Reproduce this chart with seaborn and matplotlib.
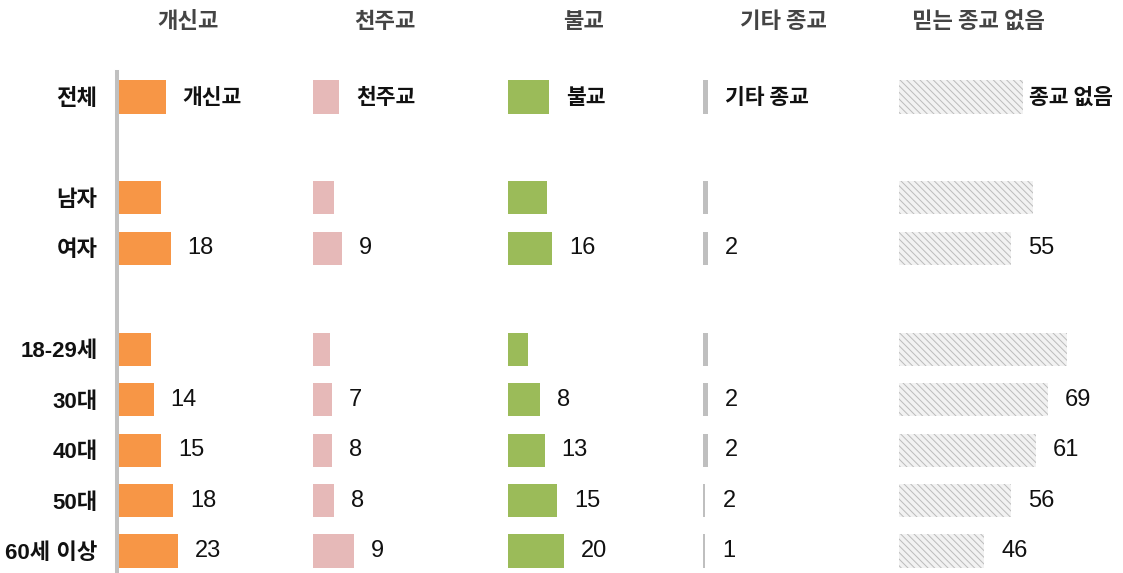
import seaborn as sns
import matplotlib.pyplot as plt
import pandas as pd

# rows (blank names are spacer slots between groups)
row_order = ['전체', ' ', '남자', '여자', '  ', '18-29세', '30대', '40대', '50대', '60세 이상']
groups = ['전체', '남자', '여자', '18-29세', '30대', '40대', '50대', '60세 이상']

religions = ['개신교', '천주교', '불교', '기타 종교', '믿는 종교 없음']
first_row_names = ['개신교', '천주교', '불교', '기타 종교', '종교 없음']

# bar lengths as drawn (%)
protestant = [20, 18, 22, 14, 15, 18, 23, 25]
catholic = [11, 9, 12, 7, 8, 8, 9, 17]
buddhism = [17, 16, 18, 8, 13, 15, 20, 23]
other_rel = [2, 2, 2, 2, 2, 2, 1, 1]
no_rel = [51, 55, 46, 69, 61, 56, 46, 35]

# value labels printed next to the bars (None = no label)
protestant_lbl = [None, None, '18', None, '14', '15', '18', '23']
catholic_lbl = [None, None, '9', None, '7', '8', '8', '9']
buddhism_lbl = [None, None, '16', None, '8', '13', '15', '20']
other_lbl = [None, None, '2', None, '2', '2', '2', '1']
no_rel_lbl = [None, None, '55', None, '69', '61', '56', '46']

values = [protestant, catholic, buddhism, other_rel, no_rel]
labels = [protestant_lbl, catholic_lbl, buddhism_lbl, other_lbl, no_rel_lbl]
colors = ['#F79646', '#E6B9B8', '#9BBB59', '#BFBFBF', '#F2F2F2']

sns.set_theme(style='white')
plt.rcParams['font.family'] = ['Noto Sans CJK KR', 'DejaVu Sans']
plt.rcParams['hatch.linewidth'] = 0.7
num_font = ['Liberation Sans', 'Noto Sans CJK KR']

FW, FH = 1123, 573
PX_PER_UNIT = 2.44
AX_W = 190
AX_TOP = 72
base_px = [117, 312.5, 508, 703, 899]
header_off = [71, 72, 76, 80, 80]
row_step = 50.44

fig = plt.figure(figsize=(FW / 100, FH / 100), dpi=100)

for i, rel in enumerate(religions):
    ax = fig.add_axes([base_px[i] / FW, 0, AX_W / FW, (FH - AX_TOP) / FH])
    df = pd.DataFrame({'group': groups, 'value': values[i]})
    kws = dict(linewidth=0)
    if i == 4:
        kws.update(hatch='\\' * 5, edgecolor='#BBBBBB')
    sns.barplot(data=df, x='value', y='group', order=row_order, orient='h',
                color=colors[i], saturation=1, width=0.655, ax=ax, **kws)
    ax.set_xlim(0, AX_W / PX_PER_UNIT)
    ax.set_ylim(9 + 22 / row_step, -25 / row_step)
    ax.set_xlabel('')
    ax.set_ylabel('')
    ax.set_xticks([])
    for s in ['top', 'right', 'bottom']:
        ax.spines[s].set_visible(False)
    if i == 0:
        ax.spines['left'].set_color('#C0C0C0')
        ax.spines['left'].set_linewidth(2.9)
        ax.tick_params(axis='y', length=0, pad=14, labelsize=16)
        plt.setp(ax.get_yticklabels(), fontweight='bold', color='#111111',
                 family=num_font)
    else:
        ax.spines['left'].set_visible(False)
        ax.set_yticks([])

    # header
    ax.text(header_off[i] / PX_PER_UNIT, 1 + 50 / (FH - AX_TOP), rel,
            transform=ax.get_xaxis_transform(), ha='center', va='center',
            fontsize=16, fontweight='bold', color='#444444')

    # labels
    for j, g in enumerate(groups):
        y = row_order.index(g)
        if j == 0:
            off = 6 if i == 4 else 17
            ax.text(values[i][j] + off / PX_PER_UNIT, y, first_row_names[i],
                    ha='left', va='center', fontsize=15.5, fontweight='bold',
                    color='#111111')
        elif labels[i][j] is not None:
            ax.text(values[i][j] + 17 / PX_PER_UNIT, y, labels[i][j],
                    ha='left', va='center', fontsize=17, color='#111111',
                    family=num_font)

fig.savefig('out.png', dpi=100)
